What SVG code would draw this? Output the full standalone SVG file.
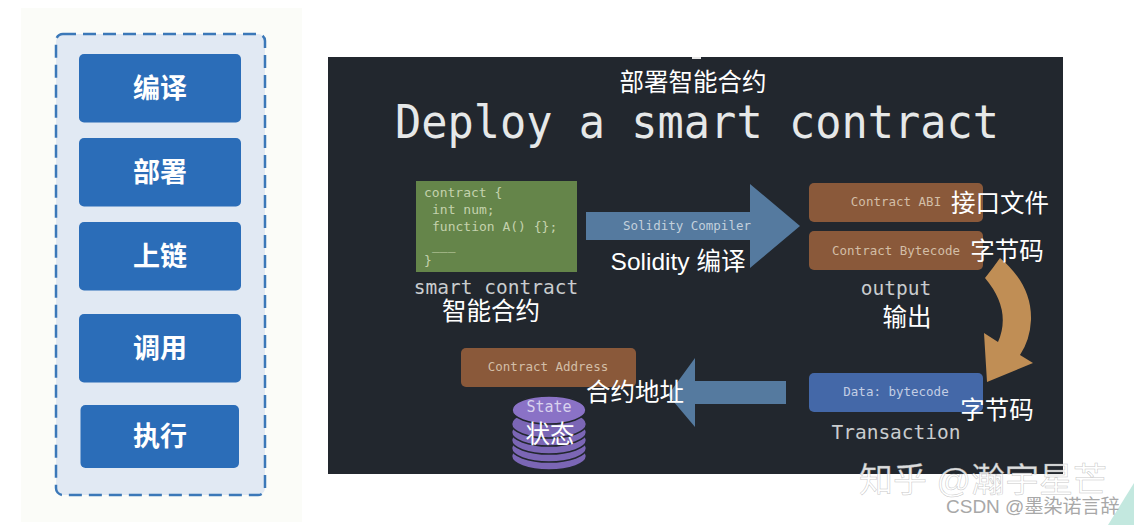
<svg xmlns="http://www.w3.org/2000/svg" width="1134" height="525" viewBox="0 0 1134 525">
<style>
.cjk{font-family:"Liberation Sans","Noto Sans CJK SC",sans-serif;font-size:24.500px;fill:#fff;text-anchor:middle}
.btn{fill:#2b6db8}
.btxt{font-family:"Noto Sans CJK SC",sans-serif;font-weight:700;font-size:27px;fill:#fff;text-anchor:middle}
.mono{font-family:"DejaVu Sans Mono","Liberation Mono",monospace}
.small{font-size:12.5px;fill:#d3bea6;text-anchor:middle}
.big{font-size:19.500px;fill:#c9ccce;text-anchor:middle}
.brown{fill:#8a593a}
.disc{fill:#7b66b5;stroke:#22272e;stroke-width:1.6}
</style>
<rect width="1134" height="525" fill="#fff"/>
<rect x="21" y="8" width="281" height="514" fill="#fbfcf8"/>
<g id="panel"><rect x="56" y="34" width="209" height="461" rx="7" fill="#e1e9f3" stroke="#3b78b8" stroke-width="2.5" stroke-dasharray="13 7"/></g>
<g id="step-compile"><rect class="btn" x="79" y="54" width="162" height="68.500" rx="5"/><text class="btxt" x="160" y="98">编译</text></g>
<g id="step-deploy"><rect class="btn" x="79" y="138" width="162" height="68.500" rx="5"/><text class="btxt" x="160" y="182">部署</text></g>
<g id="step-chain"><rect class="btn" x="79" y="222" width="162" height="68.500" rx="5"/><text class="btxt" x="160" y="266">上链</text></g>
<g id="step-call"><rect class="btn" x="79" y="314" width="162" height="68.500" rx="5"/><text class="btxt" x="160" y="358">调用</text></g>
<g id="step-exec"><rect class="btn" x="80.500" y="405" width="158.500" height="63" rx="5"/><text class="btxt" x="160" y="446">执行</text></g>

<g id="slide"><rect x="328" y="57" width="735" height="417" fill="#22272e"/>
<rect x="692" y="57" width="9" height="2" fill="#e8e8e8"/>
<text class="cjk" x="693" y="91">部署智能合约</text>
<text class="mono" x="697" y="138" font-size="46" fill="#e6e8e8" text-anchor="middle" textLength="604" lengthAdjust="spacingAndGlyphs">Deploy a smart contract</text>
</g>

<g id="connectors">
<path d="M586 212H750V184L800 226L750 268V240H586Z" fill="#557a9f"/>
<path d="M786 381H695V358L668 395L695 427V404H786Z" fill="#557a9f"/>
<path d="M985 278Q993 268 1000 258Q1032 285 1031 320Q1030 340 1020 355L1033 363L987 382L984 333L998 342Q1012 310 985 278Z" fill="#c08e55"/>
</g>

<g id="smart-contract"><rect x="416" y="181" width="161" height="91" fill="#65854a"/>
<g class="mono" font-size="13" fill="#c4d2ad"><text x="424" y="197">contract {</text><text x="432" y="214">int num;</text><text x="432" y="231">function A() {};</text><text x="432" y="250">___</text><text x="424" y="265">}</text></g>
<text class="mono big" x="496" y="294">smart contract</text>
<text class="cjk" x="491" y="320">智能合约</text></g>

<g id="compiler-label"><text class="mono" x="687" y="230" font-size="12.500" fill="#c3d0dc" text-anchor="middle">Solidity Compiler</text>
<text class="cjk" x="678" y="270">Solidity 编译</text></g>

<g id="contract-abi"><rect class="brown" x="809" y="183" width="174" height="39" rx="5"/><text class="mono small" x="896" y="206">Contract ABI</text>
<text class="cjk" x="1000" y="212">接口文件</text></g>
<g id="contract-bytecode"><rect class="brown" x="809" y="231" width="174" height="39" rx="5"/><text class="mono small" x="896" y="255">Contract Bytecode</text>
<text class="cjk" x="1007" y="260">字节码</text></g>
<g id="output"><text class="mono big" x="896" y="295">output</text><text class="cjk" x="907" y="326">输出</text></g>

<g id="transaction"><rect x="809" y="373" width="174" height="39" rx="5" fill="#4468a8"/><text class="mono" x="896" y="396" font-size="12.500" fill="#c3cee4" text-anchor="middle">Data: bytecode</text>
<text class="cjk" x="997" y="419">字节码</text>
<text class="mono big" x="896" y="439">Transaction</text></g>

<g id="contract-address"><rect class="brown" x="461" y="348" width="175" height="39" rx="5"/><text class="mono small" x="548" y="371">Contract Address</text>
<text class="cjk" x="635" y="401">合约地址</text></g>

<g id="state">
<ellipse class="disc" cx="549" cy="456" rx="37.500" ry="14"/>
<ellipse class="disc" cx="549" cy="448" rx="37.500" ry="14"/>
<ellipse class="disc" cx="549" cy="440" rx="37.500" ry="14"/>
<ellipse class="disc" cx="549" cy="432" rx="37.500" ry="14"/>
<ellipse class="disc" cx="549" cy="424" rx="37.500" ry="14"/>
<ellipse cx="549" cy="410" rx="37" ry="14" fill="#8a72c6" stroke="#22272e" stroke-width="1.600"/>
<text class="mono" x="549" y="412" font-size="15" fill="#d9d2ee" text-anchor="middle">State</text>
<text class="cjk" x="550" y="443">状态</text></g>

<path id="corner" d="M1134 483V525H1108Z" fill="#c3e8df"/>
<g id="watermark" font-family="Liberation Sans,Noto Sans CJK SC,sans-serif">
<text x="859" y="492" font-size="34" fill="#fff" fill-opacity=".85" stroke="#999" stroke-width=".5" stroke-opacity=".6">知乎 @瀚宇星芒</text>
<text x="946" y="513" font-size="19" fill="#a8a8a8">CSDN @墨染诺言辞</text></g>
</svg>
